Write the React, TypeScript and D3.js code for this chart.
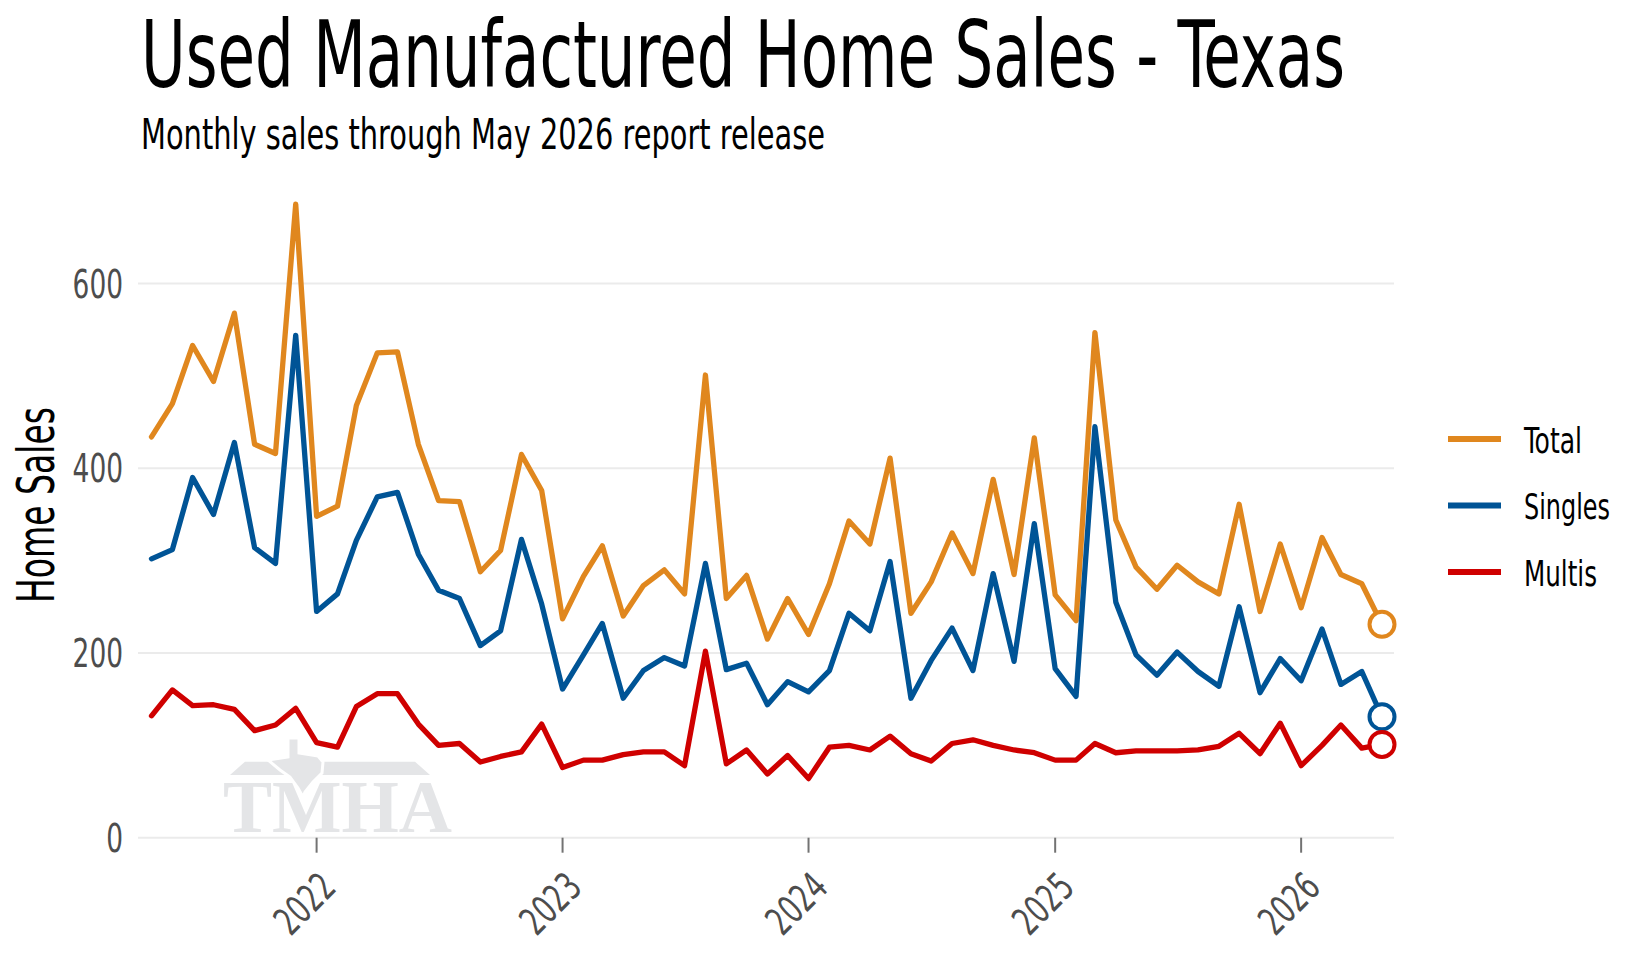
import * as d3 from 'd3'

// monthly points, May 2021 .. May 2026
const months = d3.timeMonth.range(new Date(2021, 4, 1), new Date(2026, 5, 1))

const total = [
  434, 470, 533, 494, 568, 426, 416, 686,
  348, 359, 468, 525, 526, 426, 365, 364, 288, 311, 415, 376,
  237, 283, 316, 240, 273, 290, 264, 501, 259, 284, 215, 259,
  220, 275, 343, 318, 411, 243, 277, 330, 286, 388, 285, 433,
  263, 235, 547, 344, 293, 269, 295, 277, 264, 361, 245, 318,
  249, 325, 285, 275, 231,
]
const singles = [
  302, 312, 390, 350, 428, 314, 297, 544,
  245, 264, 322, 369, 374, 307, 268, 259, 208, 224, 323, 253,
  161, 198, 232, 151, 181, 195, 186, 297, 182, 189, 144, 169,
  158, 181, 243, 224, 299, 151, 192, 227, 181, 286, 191, 340,
  183, 153, 445, 255, 198, 176, 201, 180, 164, 250, 157, 194,
  170, 226, 166, 180, 131,
]
const multis = [
  132, 160, 143, 144, 139, 116, 122, 140,
  103, 98, 142, 156, 156, 123, 100, 102, 82, 88, 93, 123,
  76, 84, 84, 90, 93, 93, 78, 202, 80, 95, 69, 89,
  64, 98, 100, 95, 110, 91, 83, 102, 106, 100, 95, 92,
  84, 84, 102, 92, 94, 94, 94, 95, 99, 113, 91, 124,
  78, 100, 122, 97, 101,
]

const seriesNames = ['Total', 'Singles', 'Multis']
const seriesColors = ['#E0871E', '#005496', '#CF0000']
const seriesValues = [total, singles, multis]
const legendWidths = [58, 86, 73]

const yTicks = [0, 200, 400, 600]
const yearTicks = [2022, 2023, 2024, 2025, 2026]

const FONT = "'Liberation Sans Narrow', 'Arial Narrow', 'DejaVu Sans Condensed', sans-serif"
const DIGIT_W = 16.8

export default function App() {
  const W = 1643
  const H = 960
  const panelL = 138
  const panelR = 1394

  const x = d3.scaleTime()
    .domain([months[0], months[months.length - 1]])
    .range([151.5, 1382])
  const y = d3.scaleLinear().domain([0, 600]).range([837.7, 283.6])

  const line = d3.line<number>()
    .x((_, i) => x(months[i]))
    .y(d => y(d))

  const last = months.length - 1

  return (
    <svg width={W} height={H} viewBox={`0 0 ${W} ${H}`}
      style={{ position: 'absolute', left: 0, top: 0, background: '#fff' }}>
      {/* title */}
      <text x={141} y={87} fontFamily={FONT} fontSize={92} fill="#000"
        textLength={1204} lengthAdjust="spacingAndGlyphs">
        Used Manufactured Home Sales - Texas
      </text>
      <text x={141} y={149} fontFamily={FONT} fontSize={43} fill="#000"
        textLength={684} lengthAdjust="spacingAndGlyphs">
        Monthly sales through May 2026 report release
      </text>

      {/* grid */}
      {yTicks.map(t => (
        <line key={t} x1={panelL} x2={panelR} y1={y(t)} y2={y(t)} stroke="#EBEBEB" strokeWidth={2} />
      ))}
      {yTicks.map(t => (
        <text key={'l' + t} x={123} y={y(t) + 14} textAnchor="end" fontFamily={FONT}
          fontSize={39} fill="#4D4D4D" textLength={String(t).length * DIGIT_W}
          lengthAdjust="spacingAndGlyphs">{t}</text>
      ))}

      {/* x axis */}
      {yearTicks.map(yr => {
        const px = x(new Date(yr, 0, 1))
        return (
          <g key={yr}>
            <line x1={px} x2={px} y1={y(0)} y2={y(0) + 15} stroke="#737373" strokeWidth={2} />
            <text transform={`translate(${px - 12.4},${903.3}) rotate(-45)`} textAnchor="middle"
              dy="0.36em" fontFamily={FONT} fontSize={39} fill="#4D4D4D"
              textLength={4 * DIGIT_W} lengthAdjust="spacingAndGlyphs">{yr}</text>
          </g>
        )
      })}

      <text transform="translate(54,505) rotate(-90)" textAnchor="middle" fontFamily={FONT}
        fontSize={52} fill="#000" textLength={196} lengthAdjust="spacingAndGlyphs">Home Sales</text>

      {/* watermark */}
      <g fill="#E4E5E7">
        <polygon points="230,775 245,761.7 415,761.7 430,775" />
        <polygon points="288,738 299,738 299,753 318,756 323,762 322,773 313,782 305,792 303,797 298,788 290,777 280,770 268,760 288,757"
          stroke="#fff" strokeWidth={3} />
        <text x={223} y={832} fontFamily="'Liberation Serif', 'DejaVu Serif', serif" fontWeight="bold"
          fontSize={74} textLength={229} lengthAdjust="spacingAndGlyphs">TMHA</text>
      </g>

      {/* series */}
      {seriesValues.map((vals, i) => (
        <path key={seriesNames[i]} d={line(vals) ?? ''} fill="none" stroke={seriesColors[i]}
          strokeWidth={5.3} strokeLinejoin="round" strokeLinecap="round" />
      ))}
      {seriesValues.map((vals, i) => (
        <circle key={'c' + i} cx={x(months[last])} cy={y(vals[last])} r={12.5}
          fill="#fff" stroke={seriesColors[i]} strokeWidth={4} />
      ))}

      {/* legend */}
      {seriesNames.map((name, i) => {
        const ly = 439 + i * 66.5
        return (
          <g key={'lg' + name}>
            <line x1={1448} x2={1501} y1={ly} y2={ly} stroke={seriesColors[i]} strokeWidth={6} />
            <text x={1524} y={ly + 13.5} fontFamily={FONT} fontSize={36} fill="#000"
              textLength={legendWidths[i]} lengthAdjust="spacingAndGlyphs">{name}</text>
          </g>
        )
      })}
    </svg>
  )
}
